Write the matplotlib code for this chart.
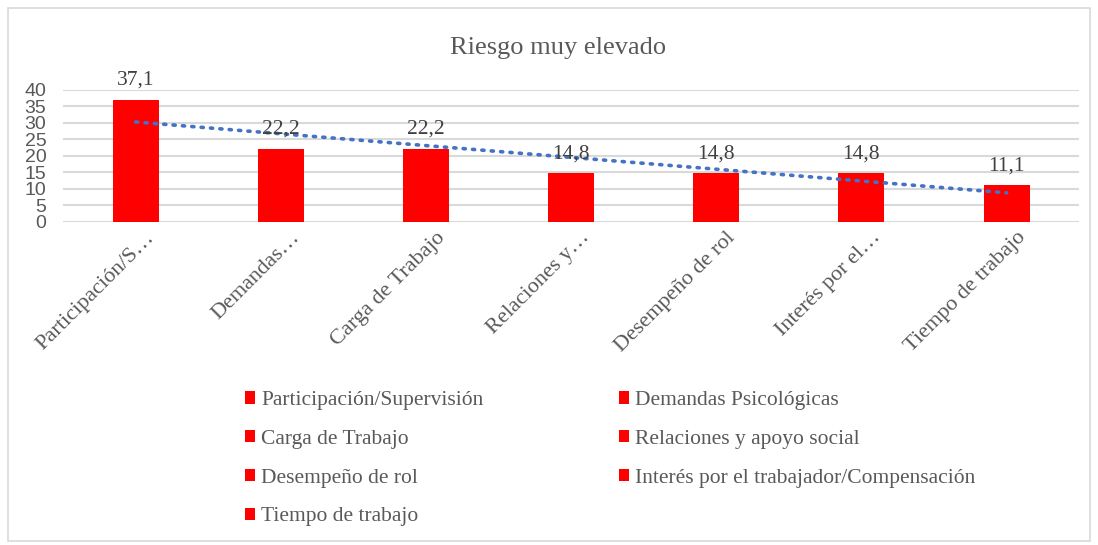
import numpy as np
import matplotlib
matplotlib.use("Agg")
import matplotlib.pyplot as plt
import matplotlib.transforms as mtransforms
from matplotlib.patches import Rectangle, Patch

# datos
categorias = ["Participación/Supervisión", "Demandas Psicológicas", "Carga de Trabajo",
              "Relaciones y apoyo social", "Desempeño de rol",
              "Interés por el trabajador/Compensación", "Tiempo de trabajo"]
etiquetas_x = ["Participación/S…", "Demandas…", "Carga de Trabajo", "Relaciones y…",
               "Desempeño de rol", "Interés por el…", "Tiempo de trabajo"]
valores = [37.1, 22.2, 22.2, 14.8, 14.8, 14.8, 11.1]
ticks_y = [0, 5, 10, 15, 20, 25, 30, 35, 40]

gris = "#595959"
serif = ["Liberation Serif", "DejaVu Serif"]
narrow = ["Liberation Sans Narrow", "Liberation Sans", "DejaVu Sans"]

fig = plt.figure(figsize=(10.98, 5.45), dpi=100)
ax = fig.add_axes([0.0574, 0.5927, 0.9255, 0.2422])

x = np.arange(len(valores))
ax.bar(x, valores, width=0.317, color="#FF0000", zorder=3)

# linea de tendencia lineal
m, b = np.polyfit(x, valores, 1)
ax.plot(x, m * x + b, color="#4472C4", lw=2.6, linestyle=(0, (0.6, 2.0)),
        dash_capstyle="round", zorder=4)

for xi, v in zip(x, valores):
    ax.annotate(f"{v:.1f}".replace(".", ","), (xi, v), xytext=(0, 7),
                textcoords="offset points", ha="center", va="bottom",
                fontsize=15.5, color="#404040", family=serif, zorder=5)

ax.set_xlim(-0.5, len(valores) - 0.5)
ax.set_ylim(0, 40)
ax.set_yticks(ticks_y)
ax.set_yticklabels([str(t) for t in ticks_y], family=narrow, fontsize=14, color=gris)
ax.set_xticks(x)
ax.set_xticklabels(etiquetas_x, rotation=45, ha="right", va="center", rotation_mode="anchor",
                   family=serif, fontsize=16, color=gris)
ax.tick_params(axis="x", length=0, pad=0)
ax.tick_params(axis="y", length=0, pad=12)
desplaza = mtransforms.ScaledTranslation(0.16, -0.13, fig.dpi_scale_trans)
for lab in ax.get_xticklabels():
    lab.set_transform(lab.get_transform() + desplaza)
ax.grid(axis="y", color="#D9D9D9", lw=1.5, zorder=0)
for s in ax.spines.values():
    s.set_visible(False)

fig.text(0.508, 0.912, "Riesgo muy elevado", ha="center", va="center",
         fontsize=19, color=gris, family=serif)

# leyenda en dos columnas, orden por filas
orden = [0, 2, 4, 6, 1, 3, 5]
handles = [Patch(facecolor="#FF0000", label=categorias[i]) for i in orden]
leg = fig.legend(handles=handles, ncol=2, loc="upper left", bbox_to_anchor=(0.215, 0.298),
                 borderaxespad=0, frameon=False, prop={"family": serif, "size": 15.5},
                 handlelength=0.5, handleheight=0.5, handletextpad=0.28,
                 columnspacing=6.27, labelspacing=0.915)
for t in leg.get_texts():
    t.set_color(gris)

# marco exterior del grafico
fig.patches.append(Rectangle((0.007, 0.008), 0.986, 0.978, transform=fig.transFigure,
                             fill=False, edgecolor="#D9D9D9", lw=1.2))

fig.savefig("out.png", dpi=100)
